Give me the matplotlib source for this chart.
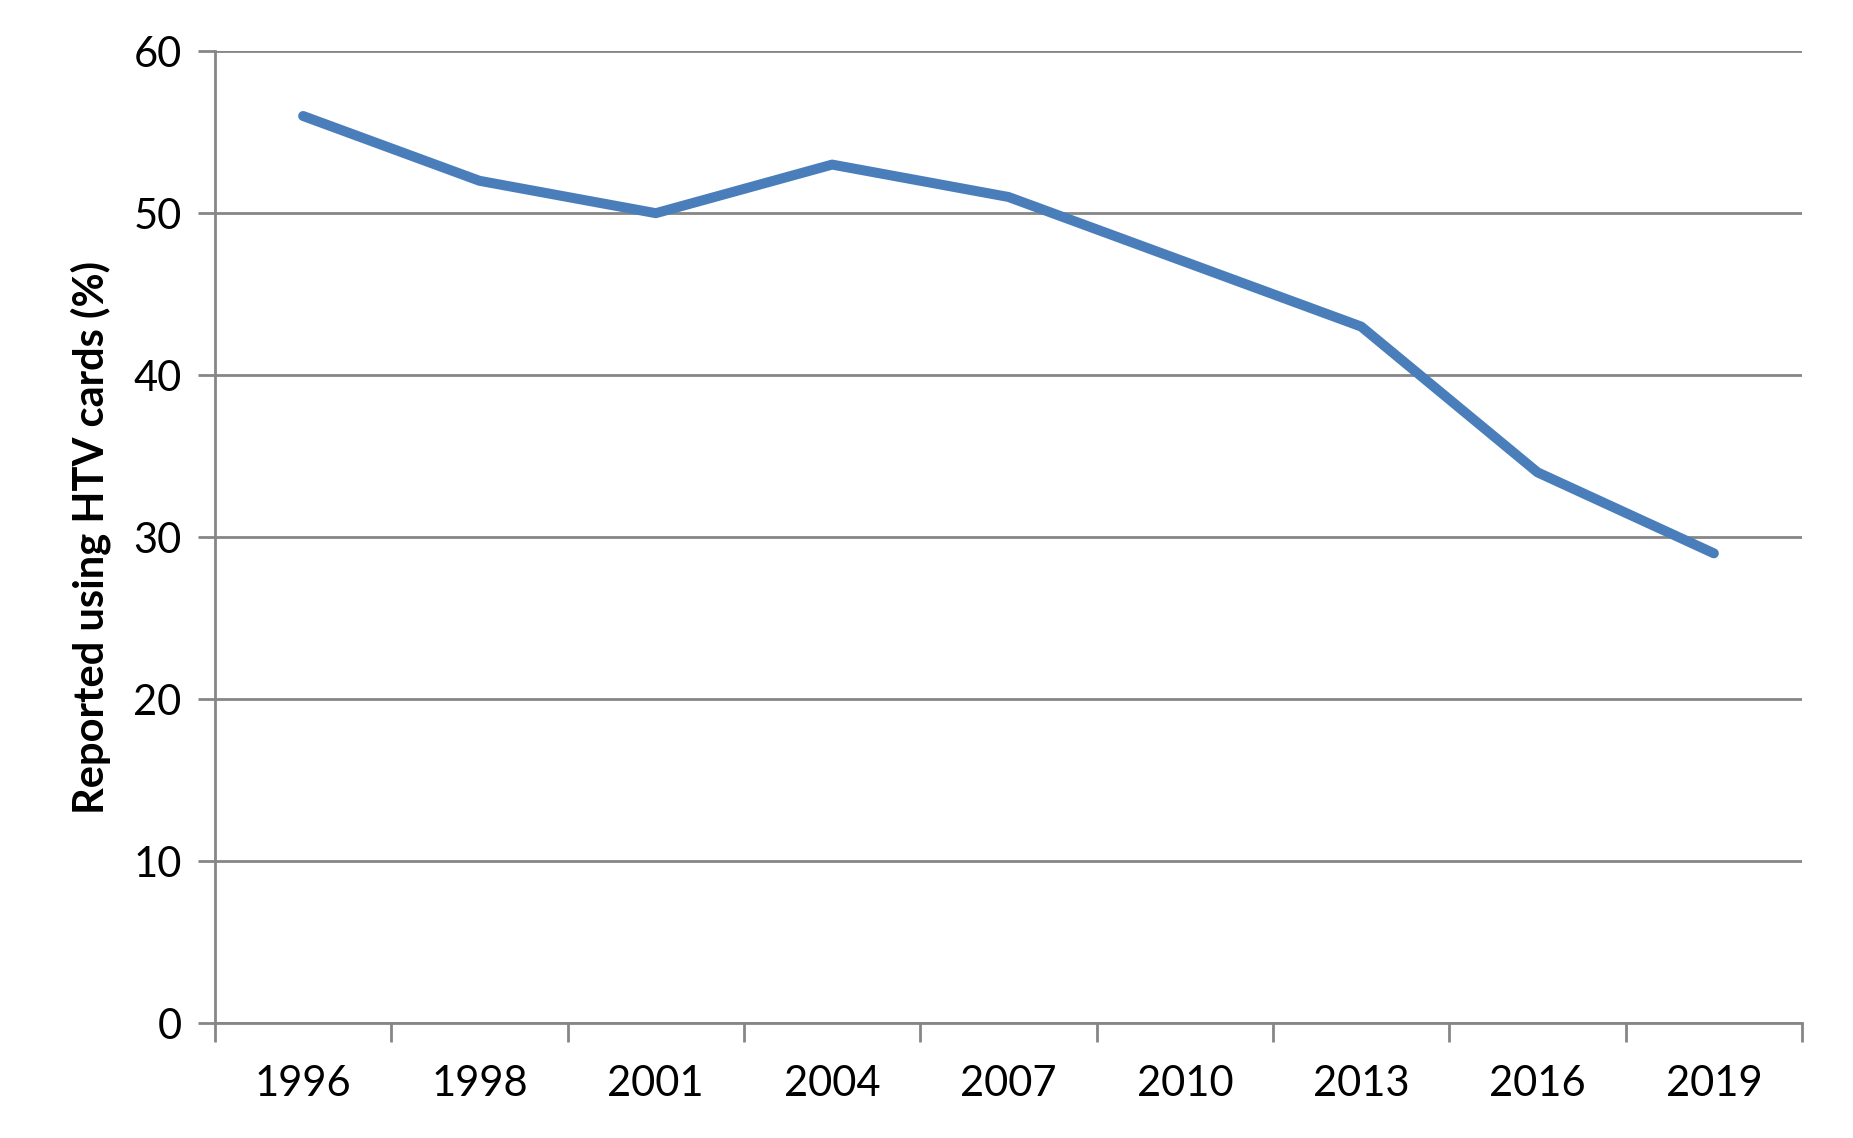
#!/usr/bin/env python3

import matplotlib
matplotlib.use('Agg')
import matplotlib.pyplot as plt

# -- Data
years = ['1996', '1998', '2001', '2004', '2007', '2010', '2013', '2016', '2019']
htv_share = [56, 52, 50, 53, 51, 47, 43, 34, 29]

y_ticks = [0, 10, 20, 30, 40, 50, 60]

LINE_BLUE = '#4A7EBB'
GRID_GREY = '#868686'

plt.rcParams['font.family'] = ['Lato', 'DejaVu Sans']

fig = plt.figure(figsize=(18.53, 11.38), dpi=100)
ax = fig.add_axes([0.116, 0.101, 0.8565, 0.854])

x = range(len(years))
ax.plot(x, htv_share, color=LINE_BLUE, linewidth=7.2, solid_capstyle='round',
        solid_joinstyle='round', zorder=3)

# -- Axes and grid
ax.set_xlim(-0.5, len(years) - 0.5)
ax.set_ylim(0, 60)
ax.set_yticks(y_ticks)
ax.yaxis.grid(True, color=GRID_GREY, linewidth=2)
ax.set_axisbelow(True)

# category ticks sit between the labels
ax.set_xticks([i - 0.5 for i in range(len(years) + 1)])
ax.set_xticklabels([])
ax.set_xticks(list(x), minor=True)
ax.set_xticklabels(years, minor=True, fontsize=30)
ax.tick_params(axis='x', which='major', length=14, width=2, color=GRID_GREY,
               direction='out')
ax.tick_params(axis='x', which='minor', length=0, pad=30)
ax.tick_params(axis='y', length=12, width=2, color=GRID_GREY, labelsize=30,
               pad=12)

for side in ['top', 'right']:
    ax.spines[side].set_visible(False)
for side in ['left', 'bottom']:
    ax.spines[side].set_color(GRID_GREY)
    ax.spines[side].set_linewidth(2)

ax.set_ylabel('Reported using HTV cards (%)', fontsize=30, fontweight='bold',
              labelpad=16)

fig.savefig('out.png', dpi=100)
